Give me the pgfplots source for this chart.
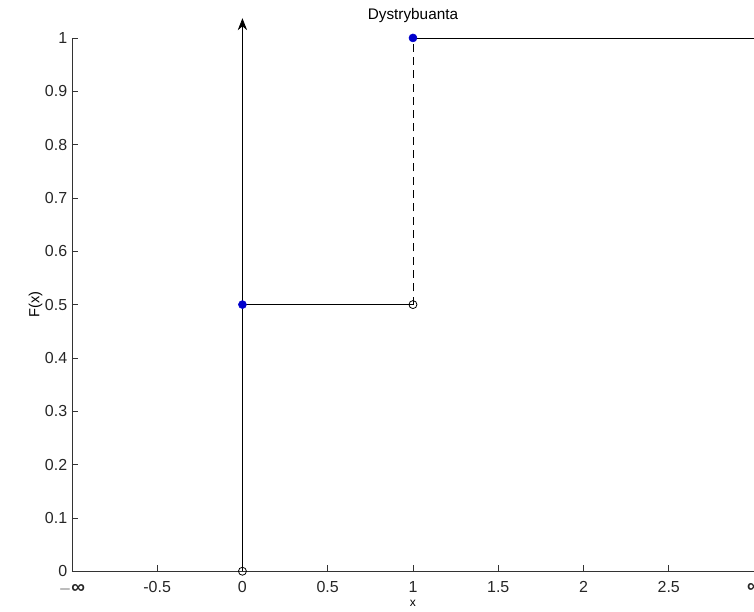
\documentclass[border=0pt]{standalone}
\usepackage{pgfplots}
\pgfplotsset{compat=1.18}
\usepackage{fontspec}
\setmainfont{Liberation Sans}
\usetikzlibrary{arrows.meta}
\begin{document}
\begin{tikzpicture}
\begin{axis}[
  scale only axis,
  width=512.25pt, height=400.5pt,
  xmin=-1, xmax=3, ymin=0, ymax=1,
  axis x line*=bottom, axis y line*=left,
  axis line style={black!80, line width=0.6pt},
  tick align=inside,
  major tick length=4.5pt,
  tick style={black!80, line width=0.6pt},
  xtick={-0.5,0,0.5,1,1.5,2,2.5},
  xticklabels={{-0.5},{0},{0.5},{1},{1.5},{2},{2.5}},
  extra x ticks={-1,3},
  extra x tick labels={{$-${\Large\textbf{∞}}},{{\Large\textbf{∞}}}},
  extra x tick style={xticklabel style={yshift=-2pt}},
  ytick={0,0.1,0.2,0.3,0.4,0.5,0.6,0.7,0.8,0.9,1},
  yticklabels={0,0.1,0.2,0.3,0.4,0.5,0.6,0.7,0.8,0.9,1},
  tick label style={font=\fontsize{12}{13}\selectfont, black!85},
  /pgf/number format/assume math mode=true,
  xticklabel style={yshift=-4pt},
  title={Dystrybuanta},
  title style={font=\fontsize{11.5}{12}\selectfont, at={(0.5,1)}, anchor=base, yshift=8pt},
  xlabel={x},
  ylabel={F(x)},
  xlabel style={font=\fontsize{9}{10}\selectfont, yshift=2.5pt},
  ylabel style={font=\fontsize{11}{12}\selectfont, yshift=-5pt},
  clip=false,
]
\addplot[black, line width=0.6pt, -{Stealth[length=9pt,width=7pt]}] coordinates {(0,0) (0,1.037)};
\addplot[black, line width=0.6pt] coordinates {(0,0.5) (1,0.5)};
\addplot[black, line width=0.6pt, dash pattern=on 6pt off 4pt] coordinates {(1,0.5) (1,1)};
\addplot[black, line width=0.6pt] coordinates {(1,1) (3,1)};
\addplot[only marks, mark=o, mark size=3pt, mark options={black, fill=white, line width=0.6pt}] coordinates {(0,0) (1,0.5)};
\addplot[only marks, mark=*, mark size=3pt, mark options={blue!80!black, fill=blue!80!black}] coordinates {(0,0.5) (1,1)};
\end{axis}
\pgfresetboundingbox
\path ([shift={(-54pt,-30pt)}]current axis.south west) rectangle ([shift={(0pt,28.5pt)}]current axis.north east);
\end{tikzpicture}
\end{document}
